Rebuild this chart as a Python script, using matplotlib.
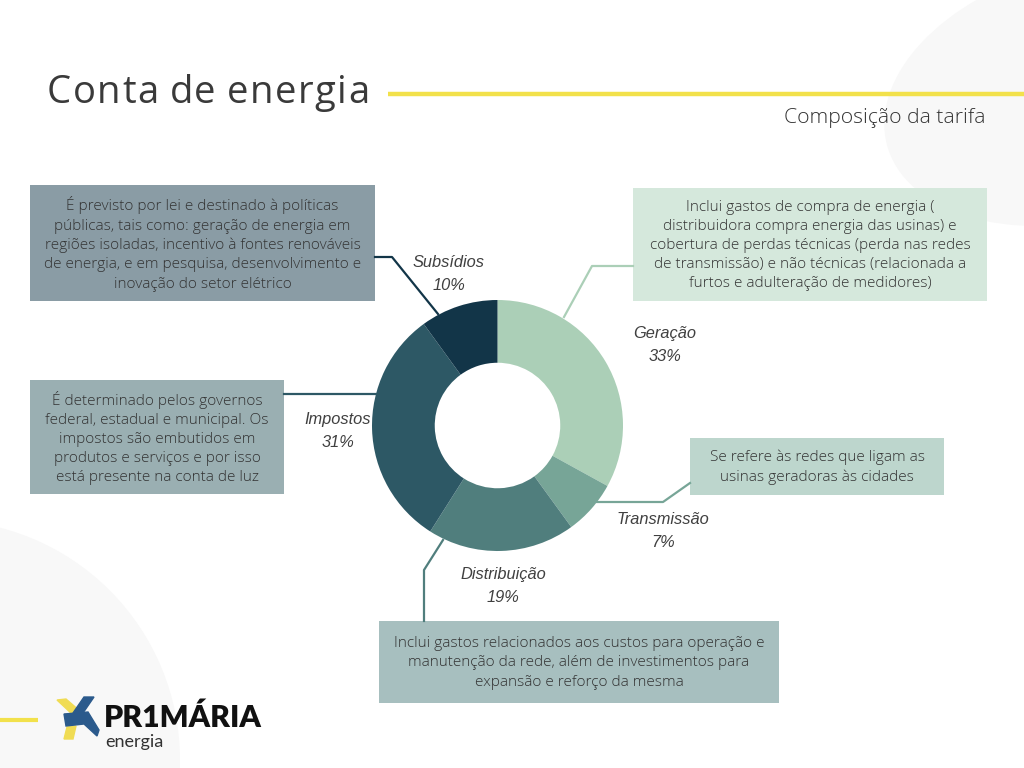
import matplotlib
matplotlib.use("Agg")
import matplotlib.pyplot as plt
from matplotlib.patches import Rectangle, Ellipse, Circle, Polygon

# ---------------- data ----------------
categories = ["Geração", "Transmissão", "Distribuição", "Impostos", "Subsídios"]
values = [33, 7, 19, 31, 10]
colors = ["#abcfb7", "#77a597", "#507e7d", "#2d5865", "#123548"]
descriptions = [
    "Inclui gastos de compra de energia (\ndistribuidora compra energia das usinas) e\ncobertura de perdas técnicas (perda nas redes\nde transmissão) e não técnicas (relacionada a\nfurtos e adulteração de medidores)",
    "Se refere às redes que ligam as\nusinas geradoras às cidades",
    "Inclui gastos relacionados aos custos para operação e\nmanutenção da rede, além de investimentos para\nexpansão e reforço da mesma",
    "É determinado pelos governos\nfederal, estadual e municipal. Os\nimpostos são embutidos em\nprodutos e serviços e por isso\nestá presente na conta de luz",
    "É previsto por lei e destinado à políticas\npúblicas, tais como: geração de energia em\nregiões isoladas, incentivo à fontes renováveis\nde energia, e em pesquisa, desenvolvimento e\ninovação do setor elétrico",
]
title = "Conta de energia"
subtitle = "Composição da tarifa"

# ---------------- layout ----------------
W, H = 1024, 768
fig = plt.figure(figsize=(W / 100, H / 100), dpi=100)
fig.patch.set_facecolor("white")
ax = fig.add_axes([0, 0, 1, 1])
ax.set_xlim(0, W)
ax.set_ylim(H, 0)
ax.axis("off")
renderer = fig.canvas.get_renderer()

# background blobs
ax.add_patch(Ellipse((1085, 92), 410, 255, angle=-15, color="#f8f8f8", zorder=0, lw=0))
ax.add_patch(Circle((-60, 760), 240, color="#f8f8f8", zorder=0, lw=0))

# title with letter spacing
x = 47
for ch in title:
    t = ax.text(x, 93, ch, fontsize=27.5, color="#3a3a3a", family=["Open Sans", "DejaVu Sans"],
                va="center", ha="left")
    bb = t.get_window_extent(renderer=renderer)
    w = 7.5 if ch == " " else bb.width
    x += w + 1.55
ax.plot([388, W], [94, 94], color="#f2e14b", lw=3.2, solid_capstyle="butt")
ax.text(986, 118, subtitle, fontsize=15.2, color="#333333", family=["Open Sans", "DejaVu Sans"],
        fontweight="light", va="center", ha="right")

# description boxes: (x0, y0, x1, y1, facecolor)
boxes = [
    (633, 188, 987, 301, "#d5e8dc"),
    (690, 438, 944, 495, "#bdd6cd"),
    (379, 621, 779, 703, "#a7bfbf"),
    (30, 380, 284, 494, "#9aafb2"),
    (30, 185, 375, 301, "#8a9ca5"),
]
for (x0, y0, x1, y1, fc), txt in zip(boxes, descriptions):
    ax.add_patch(Rectangle((x0, y0), x1 - x0, y1 - y0, facecolor=fc, edgecolor="none", zorder=1))
    ax.text((x0 + x1) / 2, (y0 + y1) / 2 + 1, txt, ha="center", va="center", fontsize=11.1,
            color="#333333", family=["Open Sans", "DejaVu Sans"], fontweight="light",
            linespacing=1.38, zorder=2)

# leader lines
leaders = [
    [(564, 317), (592, 266), (633, 266)],
    [(597, 502), (663, 502), (690, 483)],
    [(443, 540), (424, 570), (424, 621)],
    [(376, 394), (284, 394)],
    [(438, 314), (392, 257), (375, 257)],
]
for pts, c in zip(leaders, colors):
    xs, ys = zip(*pts)
    ax.plot(xs, ys, color=c, lw=1.6, zorder=3)

# category labels
label_pos = [(665, 345), (663, 531), (503, 586), (338, 431), (449, 274)]
for (lx, ly), cat, v in zip(label_pos, categories, values):
    ax.text(lx, ly, f"{cat}\n{v}%", ha="center", va="center", fontsize=11.8, style="italic",
            color="#404040", family=["Liberation Sans", "DejaVu Sans"], linespacing=1.6, zorder=4)

# donut
cx, cy, R = 497.5, 425.5, 125.5
pax = fig.add_axes([(cx - R) / W, (H - cy - R) / H, 2 * R / W, 2 * R / H])
pax.pie(values, colors=colors, startangle=90, counterclock=False, radius=1,
        wedgeprops=dict(width=0.5, edgecolor="none"))
pax.set_xlim(-1, 1)
pax.set_ylim(-1, 1)
pax.set_aspect("auto")
pax.axis("off")

# logo
ax.plot([0, 38], [720, 720], color="#f2e14b", lw=3, solid_capstyle="butt")
ax.add_patch(Polygon([(57, 700), (66, 699), (81, 712), (72, 714)], color="#f0dc54", zorder=2))
ax.add_patch(Polygon([(84, 697), (94, 697), (83, 713), (73, 713)], color="#2b5a8c", zorder=3))
ax.add_patch(Polygon([(64, 714), (88, 712), (99, 730), (97, 736), (84, 724), (66, 726)],
                     color="#2b5a8c", zorder=3))
ax.add_patch(Polygon([(67, 727), (76, 726), (73, 739), (64, 739)], color="#f0dc54", zorder=2))
ax.text(104, 718, "PR1MÁRIA", fontsize=21.8, fontweight="heavy", color="#111111",
        family=["Lato", "DejaVu Sans"], va="center", ha="left")
ax.text(105, 742, "energia", fontsize=13, color="#333333", family=["Lato", "DejaVu Sans"],
        va="center", ha="left")

fig.savefig("out.png", dpi=100, facecolor="white")
